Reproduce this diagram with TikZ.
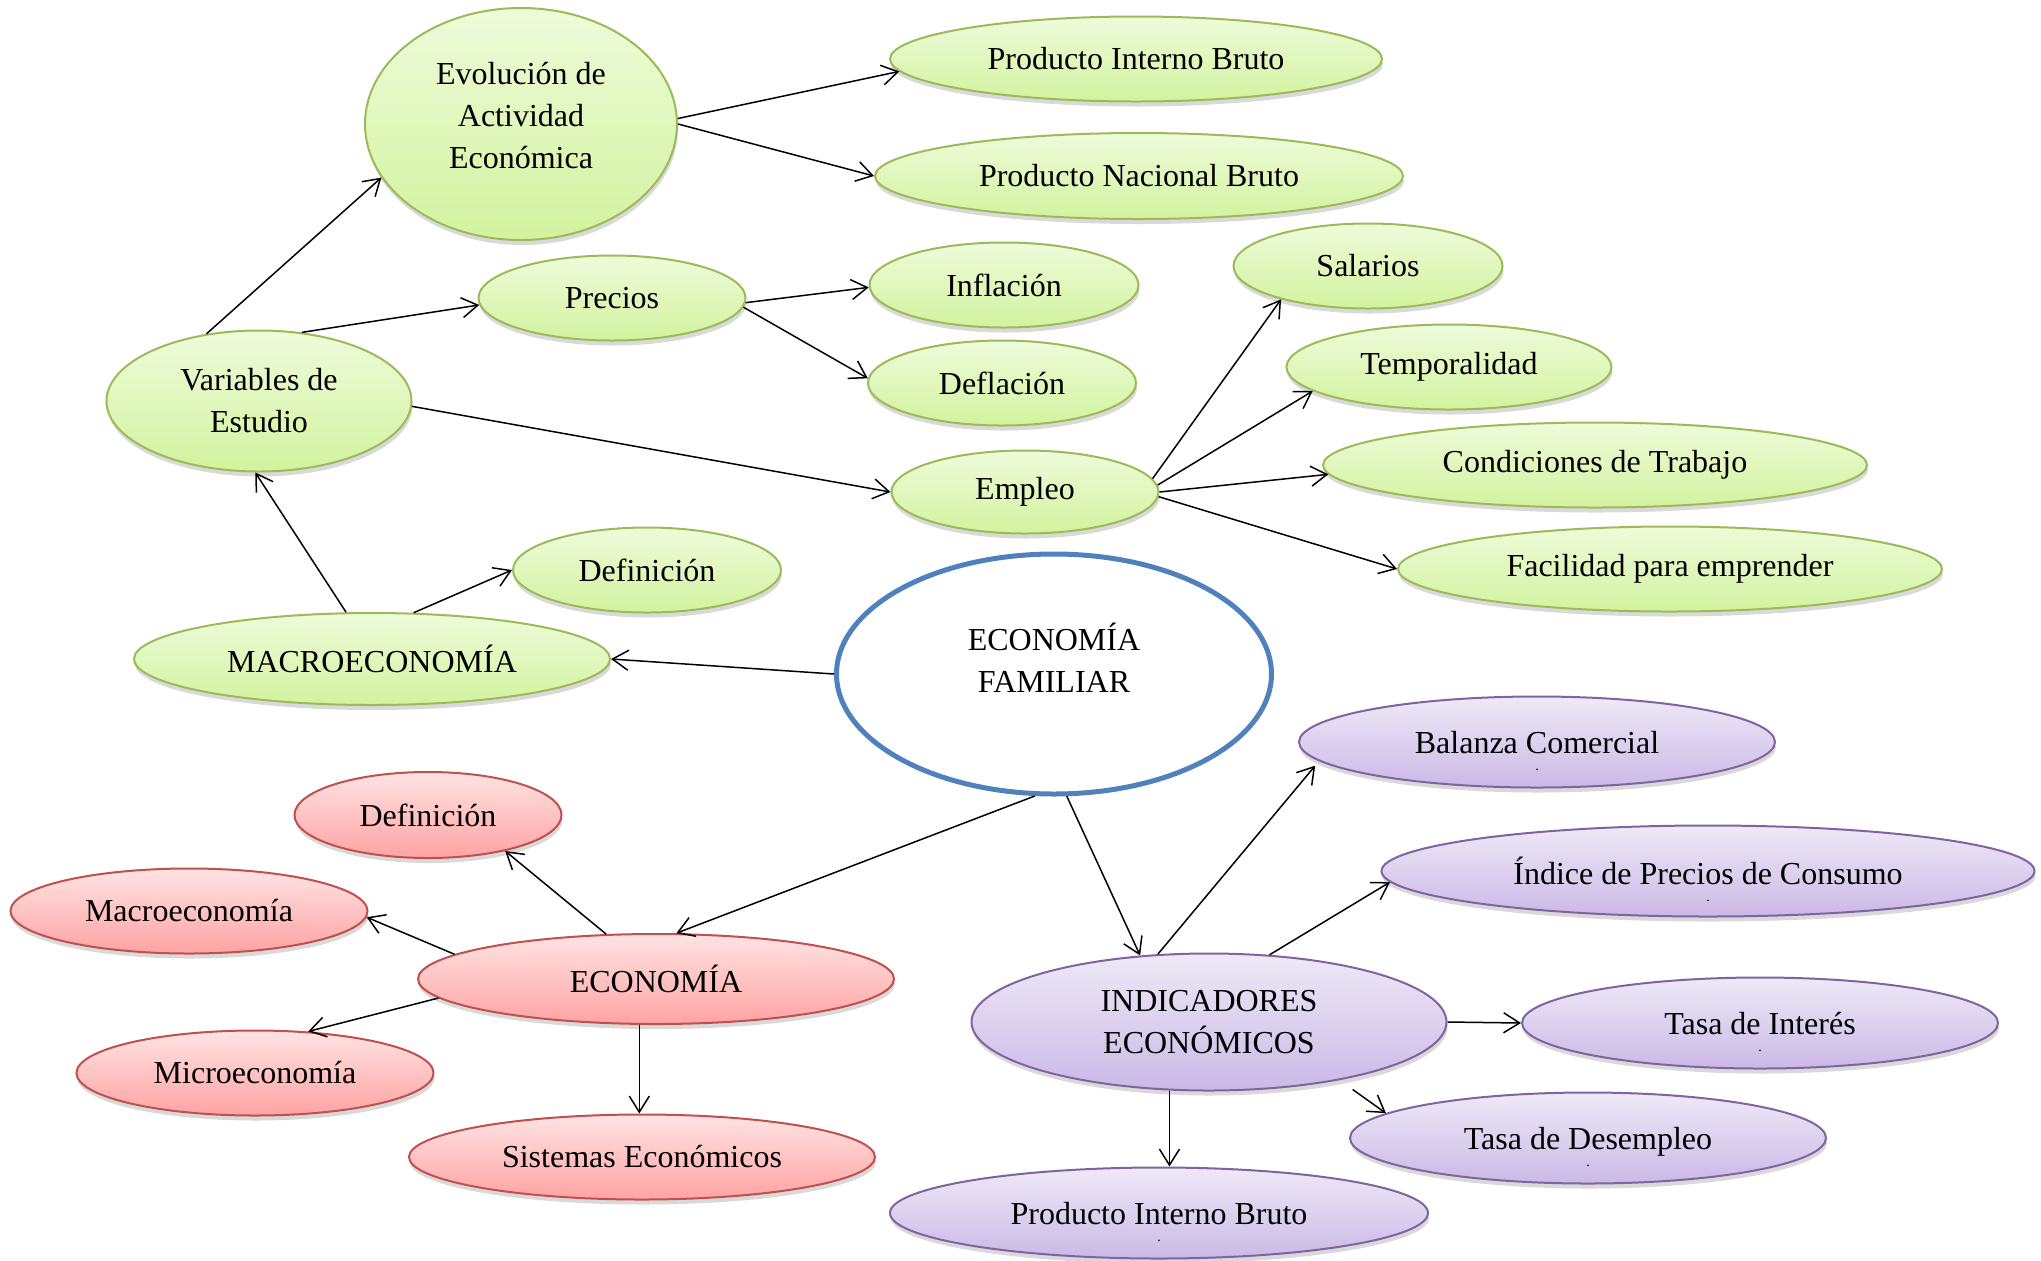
\documentclass[tikz,border=0pt]{standalone}
\usepackage{fontspec}
\setmainfont{Liberation Serif}
\usetikzlibrary{shapes.geometric, arrows.meta, positioning, shadows}

\definecolor{verdeborde}{HTML}{9BBB59}
\definecolor{verdearriba}{HTML}{EEFBDA}
\definecolor{verdeabajo}{HTML}{D2F39F}
\definecolor{rojoborde}{HTML}{C0504D}
\definecolor{rojoarriba}{HTML}{FFE3E3}
\definecolor{rojoabajo}{HTML}{FFA3A3}
\definecolor{moradoborde}{HTML}{8064A2}
\definecolor{moradoarriba}{HTML}{EEE9F7}
\definecolor{moradoabajo}{HTML}{CBB9E6}
\definecolor{azulborde}{HTML}{4F81BD}

\newcommand{\punto}{\\[-21pt]\raisebox{-8.5pt}[0pt][0pt]{\scriptsize .}}

\begin{document}
\begin{tikzpicture}[
    x=0.5pt, y=-0.5pt,
    font=\fontsize{16}{21}\selectfont,
    on grid,
    tam/.style 2 args={minimum width=#1pt, minimum height=#2pt},
    base/.style={ellipse, inner sep=0pt, align=center, line width=1pt, drop shadow={shadow xshift=0.5pt, shadow yshift=-2.5pt, fill=black, opacity=0.15}},
    verde/.style={base, draw=verdeborde, top color=verdearriba, bottom color=verdeabajo},
    rojo/.style={base, draw=rojoborde, top color=rojoarriba, bottom color=rojoabajo},
    morado/.style={base, draw=moradoborde, top color=moradoarriba, bottom color=moradoabajo},
    central/.style={ellipse, draw=azulborde, line width=2.5pt, fill=white, align=center, inner sep=0pt},
    arrow/.style={-{Straight Barb[length=8pt, width=10pt]}, line width=0.75pt}
]
\useasboundingbox (0,0) rectangle (2041,1260);

% Central node
\node[central, tam={217.5}{120}] (fam) at (1054,674) {ECONOMÍA\\FAMILIAR\\[-5pt]\mbox{}};

% Macroeconomia branch
\node[verde, tam={238}{46}, above left=7.5pt and 341pt of fam] (macro) {MACROECONOMÍA};
\node[verde, tam={152.5}{70.5}, above left=129pt and 56.5pt of macro] (vars) {Variables de\\Estudio};
\node[verde, tam={134}{42.5}, above right=44.5pt and 137.5pt of macro] (defv) {Definición};

% Variables de estudio
\node[verde, tam={156}{116}, above right=138.5pt and 131pt of vars] (evol) {Evolución de\\Actividad\\Económica\\[-12pt]\mbox{}};
\node[verde, tam={133.5}{42.5}, above right=51.5pt and 176.5pt of vars] (precios) {Precios};
\node[verde, tam={133.5}{41.5}, below right=45.5pt and 383pt of vars] (empleo) {Empleo};

\node[verde, tam={246}{42.5}, above right=32.5pt and 307.5pt of evol] (pibv) {Producto Interno Bruto};
\node[verde, tam={264}{43}, below right=26pt and 309pt of evol] (pnb) {Producto Nacional Bruto};

\node[verde, tam={134.5}{42.5}, above right=6.5pt and 196pt of precios] (infl) {Inflación};
\node[verde, tam={134}{42.5}, below right=42.5pt and 195pt of precios] (defl) {Deflación};

\node[verde, tam={134.5}{42.5}, above right=113pt and 171.5pt of empleo] (sal) {Salarios};
\node[verde, tam={162.5}{42.5}, above right=62.5pt and 212pt of empleo] (temp) {Temporalidad};
\node[verde, tam={272}{42.5}, above right=13.5pt and 285pt of empleo] (cond) {Condiciones de Trabajo};
\node[verde, tam={272}{42.5}, below right=38.5pt and 322.5pt of empleo] (facil) {Facilidad para emprender};

% Economia branch
\node[rojo, tam={238}{45}, below left=152.5pt and 199pt of fam] (eco) {ECONOMÍA};
\node[rojo, tam={133.5}{43}, above left=82pt and 114pt of eco] (defr) {Definición};
\node[rojo, tam={178.5}{42.5}, above left=34pt and 233.5pt of eco] (macror) {Macroeconomía};
\node[rojo, tam={178.5}{42.5}, below left=47pt and 200.5pt of eco] (micro) {Microeconomía};
\node[rojo, tam={233}{42.5}, below left=89pt and 7pt of eco] (sist) {Sistemas Económicos};

% Indicadores branch
\node[morado, tam={237.5}{68.5}, below right=174pt and 77.5pt of fam] (ind) {INDICADORES\\ECONÓMICOS};
\node[morado, tam={238}{45.5}, above right=140pt and 164pt of ind] (bal) {Balanza Comercial\punto};
\node[morado, tam={326.5}{45.5}, above right=75.5pt and 249.5pt of ind] (ipc) {Índice de Precios de Consumo\punto};
\node[morado, tam={238}{45.5}, below right=0.5pt and 275.5pt of ind] (interes) {Tasa de Interés\punto};
\node[morado, tam={238}{45.5}, below right=58pt and 189.5pt of ind] (desemp) {Tasa de Desempleo\punto};
\node[morado, tam={269}{45.5}, below left=95.5pt and 25pt of ind] (pibm) {Producto Interno Bruto\punto};

% Arrows
\draw[arrow] (fam.west) -- (macro.east);
\draw[arrow] (fam.261) -- (eco.66);
\draw[arrow] (fam.276) -- (ind.136);

\draw[arrow] (macro.119) -- (vars.267);
\draw[arrow] (macro.48) -- (defv.west);

\draw[arrow] (vars.128) -- (evol.201);
\draw[arrow] (vars.58) -- (precios.183);
\draw[arrow] (vars.-2) -- (empleo.west);

\draw[arrow] (evol.2) -- (pibv.183);
\draw[arrow] (evol.0) -- (pnb.west);
\draw[arrow] (precios.-2) -- (infl.181);
\draw[arrow] (precios.-4) -- (defl.178);

\draw[arrow] (empleo.6) -- (sal.201);
\draw[arrow] (empleo.3) -- (temp.190);
\draw[arrow] (empleo.0) -- (cond.182);
\draw[arrow] (empleo.-2) -- (facil.west);

\draw[arrow] (eco.138) -- (defr.335);
\draw[arrow] (eco.173) -- (macror.358);
\draw[arrow] (eco.185) -- (micro.38);
\draw[arrow] (eco.250) -- (eco.250 |- sist.north);

\draw[arrow, shorten >=3pt] (ind.127) -- (bal.185);
\draw[arrow] (ind.48) -- (ipc.182);
\draw[arrow] (ind.east) -- (interes.west);
\draw[arrow, shorten <=8pt] (ind.336) -- (desemp.173);
\draw[arrow] (ind.240) -- (ind.240 |- pibm.north);

\end{tikzpicture}
\end{document}
